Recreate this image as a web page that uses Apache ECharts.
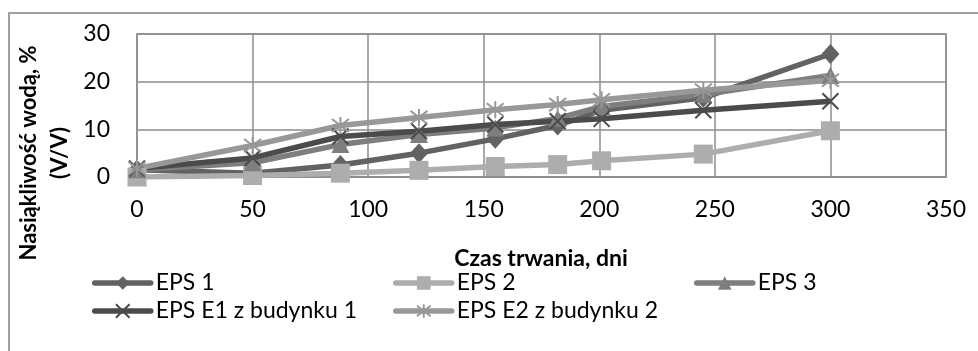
<!DOCTYPE html>
<html>
<head>
<meta charset="utf-8">
<script src="https://cdn.jsdelivr.net/npm/echarts@6/dist/echarts.min.js"></script>
<style>
  html, body { margin: 0; padding: 0; background: #fff; }
  #frame { position: absolute; left: 8px; top: 12px; width: 975px; height: 400px;
           border-left: 2px solid #a0a0a0; border-top: 2px solid #a0a0a0; box-sizing: border-box; }
  #chart { position: absolute; left: 0; top: 0; width: 978px; height: 351px; }
</style>
</head>
<body>
<div id="frame"></div>
<div id="chart"></div>
<script>
// Measurement days
const days = [0, 50, 88, 122, 155, 182, 201, 245, 300];

// Water absorption, % (V/V)
const eps1 = [1.5, 0.8, 2.5, 5.0, 8.0, 10.8, 14.0, 16.6, 25.8];
const eps2 = [0.0, 0.3, 0.8, 1.4, 2.2, 2.6, 3.4, 4.8, 9.7];
const eps3 = [1.5, 3.0, 6.8, 8.9, 10.3, 12.3, 14.8, 17.3, 21.3];
const epsE1 = [1.8, 4.0, 8.5, 9.6, 11.0, 11.7, 12.2, 14.0, 15.9];
const epsE2 = [1.8, 6.6, 10.8, 12.5, 14.1, 15.2, 16.2, 18.2, 20.3];

const seriesNames = ['EPS 1', 'EPS 2', 'EPS 3', 'EPS E1 z budynku 1', 'EPS E2 z budynku 2'];
const xTicks = { min: 0, max: 350, step: 50 };
const yTicks = { min: 0, max: 30, step: 10 };

const FONT = 'Lato, "Open Sans", sans-serif';
const pair = (vals) => days.map((d, i) => [d, vals[i]]);

const crossPath = 'path://M0,0L10,10M10,0L0,10';
const starPath = 'path://M0,0L10,10M10,0L0,10M5,-1.5L5,11.5';

function lineSeries(name, vals, color, symbol, size, strokeOnly) {
  return {
    name: name,
    type: 'line',
    data: pair(vals),
    symbol: symbol,
    symbolSize: size,
    showAllSymbol: true,
    lineStyle: { color: color, width: 5.5 },
    itemStyle: strokeOnly
      ? { color: 'rgba(0,0,0,0)', borderColor: color, borderWidth: 2 }
      : { color: color, borderWidth: 0 },
    emphasis: { disabled: true },
    animation: false
  };
}

const series = [
  lineSeries(seriesNames[0], eps1, '#626262', 'diamond', [18, 20], false),
  lineSeries(seriesNames[1], eps2, '#adadad', 'rect', 19, false),
  lineSeries(seriesNames[2], eps3, '#7e7e7e', 'triangle', [18, 17], false),
  lineSeries(seriesNames[3], epsE1, '#4b4b4b', crossPath, 16, true),
  lineSeries(seriesNames[4], epsE2, '#989898', starPath, 17, true)
];

function legendAt(name, left, midY) {
  return {
    data: [name],
    left: left,
    top: midY - 14,
    padding: 0,
    itemWidth: 56,
    itemHeight: 17,
    selectedMode: false,
    lineStyle: { width: 5.5, cap: 'round' },
    textStyle: { fontFamily: FONT, fontSize: 23, color: '#000', lineHeight: 28 }
  };
}

const chart = echarts.init(document.getElementById('chart'), null, { renderer: 'canvas' });
chart.setOption({
  backgroundColor: 'transparent',
  animation: false,
  grid: { left: 137, right: 32, top: 34, bottom: 174, show: true, borderColor: '#8c8c8c', borderWidth: 1.5 },
  xAxis: {
    type: 'value',
    min: xTicks.min, max: xTicks.max, interval: xTicks.step,
    axisLine: { show: true, lineStyle: { color: '#8c8c8c', width: 1.5 } },
    axisTick: { show: false },
    splitLine: { show: true, lineStyle: { color: '#8c8c8c', width: 1.5 } },
    axisLabel: { fontFamily: FONT, fontSize: 23, color: '#000', margin: 21 }
  },
  yAxis: {
    type: 'value',
    min: yTicks.min, max: yTicks.max, interval: yTicks.step,
    axisLine: { show: false },
    axisTick: { show: false },
    splitLine: { show: true, lineStyle: { color: '#8c8c8c', width: 1.5 } },
    axisLabel: { fontFamily: FONT, fontSize: 23, color: '#000', margin: 27 }
  },
  legend: [
    legendAt(seriesNames[0], 92, 283),
    legendAt(seriesNames[1], 393, 283),
    legendAt(seriesNames[2], 694, 283),
    legendAt(seriesNames[3], 92, 311),
    legendAt(seriesNames[4], 393, 311)
  ],
  graphic: [
    {
      type: 'text',
      x: 541, y: 259,
      style: { text: 'Czas trwania, dni', font: 'bold 23px ' + FONT,
               fill: '#000', align: 'center', verticalAlign: 'middle' }
    },
    {
      type: 'text',
      x: 44, y: 153,
      rotation: Math.PI / 2,
      style: { text: 'Nasiąkliwość wodą, %\n(V/V)', font: 'bold 22px ' + FONT,
               fill: '#000', align: 'center', verticalAlign: 'middle', lineHeight: 31 }
    }
  ],
  series: series
});
</script>
</body>
</html>
